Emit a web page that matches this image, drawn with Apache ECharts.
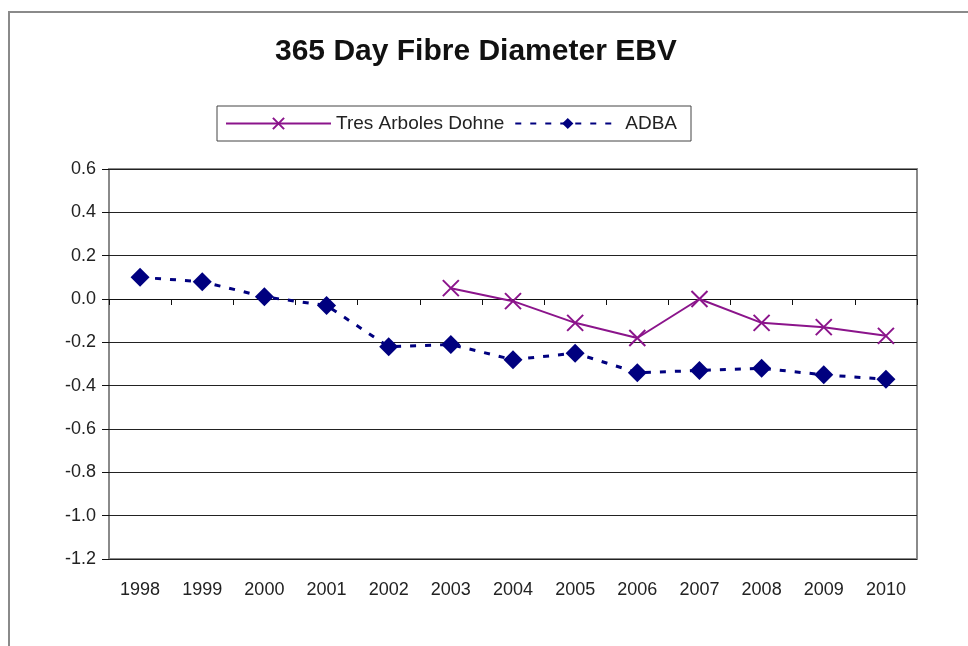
<!DOCTYPE html>
<html>
<head>
<meta charset="utf-8">
<script src="https://cdn.jsdelivr.net/npm/echarts@6/dist/echarts.min.js"></script>
<style>
  html, body { margin: 0; padding: 0; background: #fff; }
  #chart { width: 968px; height: 646px; }
</style>
</head>
<body>
<div id="chart"></div>
<script>
const years = ['1998', '1999', '2000', '2001', '2002', '2003', '2004',
  '2005', '2006', '2007', '2008', '2009', '2010'];
const tresArboles = [null, null, null, null, null, 0.05, -0.01,
  -0.11, -0.18, 0.00, -0.11, -0.13, -0.17];
const adba = [0.10, 0.08, 0.01, -0.03, -0.22, -0.21, -0.28,
  -0.25, -0.34, -0.33, -0.32, -0.35, -0.37];

const font = 'Liberation Sans, Arial, sans-serif';
const crossPath = 'path://M0,0L10,10M10,0L0,10';

const chart = echarts.init(document.getElementById('chart'));

const option = {
  backgroundColor: '#ffffff',
  animation: false,
  title: {
    text: '365 Day Fibre Diameter EBV',
    left: 270,
    top: 32,
    textStyle: { fontFamily: font, fontSize: 30, fontWeight: 'bold', color: '#111' }
  },
  legend: {
    left: 217,
    top: 106,
    padding: [8, 14, 8, 8],
    itemGap: 10,
    itemWidth: 105,
    itemHeight: 14,
    backgroundColor: '#fff',
    borderColor: '#444',
    borderWidth: 1,
    textStyle: { fontFamily: font, fontSize: 19, color: '#222' },
    data: ['Tres Arboles Dohne', 'ADBA']
  },
  graphic: [{
    type: 'rect',
    shape: { x: 9, y: 12, width: 1000, height: 700 },
    style: { fill: 'none', stroke: '#8a8a8a', lineWidth: 2 },
    silent: true
  }],
  grid: {
    left: 109,
    right: 51,
    top: 169,
    bottom: 87,
    show: true,
    borderColor: '#8a8a8a',
    borderWidth: 2
  },
  xAxis: [{
    type: 'category',
    data: years,
    position: 'bottom',
    axisLine: { show: false, onZero: false },
    axisTick: { show: false },
    axisLabel: { fontFamily: font, fontSize: 18, color: '#222', margin: 22 }
  }, {
    type: 'category',
    data: years,
    position: 'top',
    axisLine: { show: true, onZero: true, lineStyle: { color: '#111', width: 1 } },
    axisTick: { show: true, inside: true, length: 6, lineStyle: { color: '#111' } },
    axisLabel: { show: false }
  }],
  yAxis: {
    type: 'value',
    min: -1.2,
    max: 0.6,
    interval: 0.2,
    axisLine: { show: false },
    axisTick: { show: true, length: 7, lineStyle: { color: '#111' } },
    axisLabel: {
      fontFamily: font, fontSize: 18, color: '#222', margin: 13,
      formatter: v => v.toFixed(1)
    },
    splitLine: { lineStyle: { color: '#222', width: 1 } }
  },
  series: [{
    name: 'Tres Arboles Dohne',
    type: 'line',
    data: tresArboles,
    symbol: crossPath,
    symbolSize: 16,
    lineStyle: { color: '#8b148b', width: 2 },
    itemStyle: { color: '#8b148b', borderColor: '#8b148b', borderWidth: 2 },
    z: 3
  }, {
    name: 'ADBA',
    type: 'line',
    data: adba,
    symbol: 'diamond',
    symbolSize: 19,
    lineStyle: { color: '#00007f', width: 3, type: [6, 9] },
    itemStyle: { color: '#00007f' },
    z: 2
  }]
};

chart.setOption(option);
</script>
</body>
</html>
